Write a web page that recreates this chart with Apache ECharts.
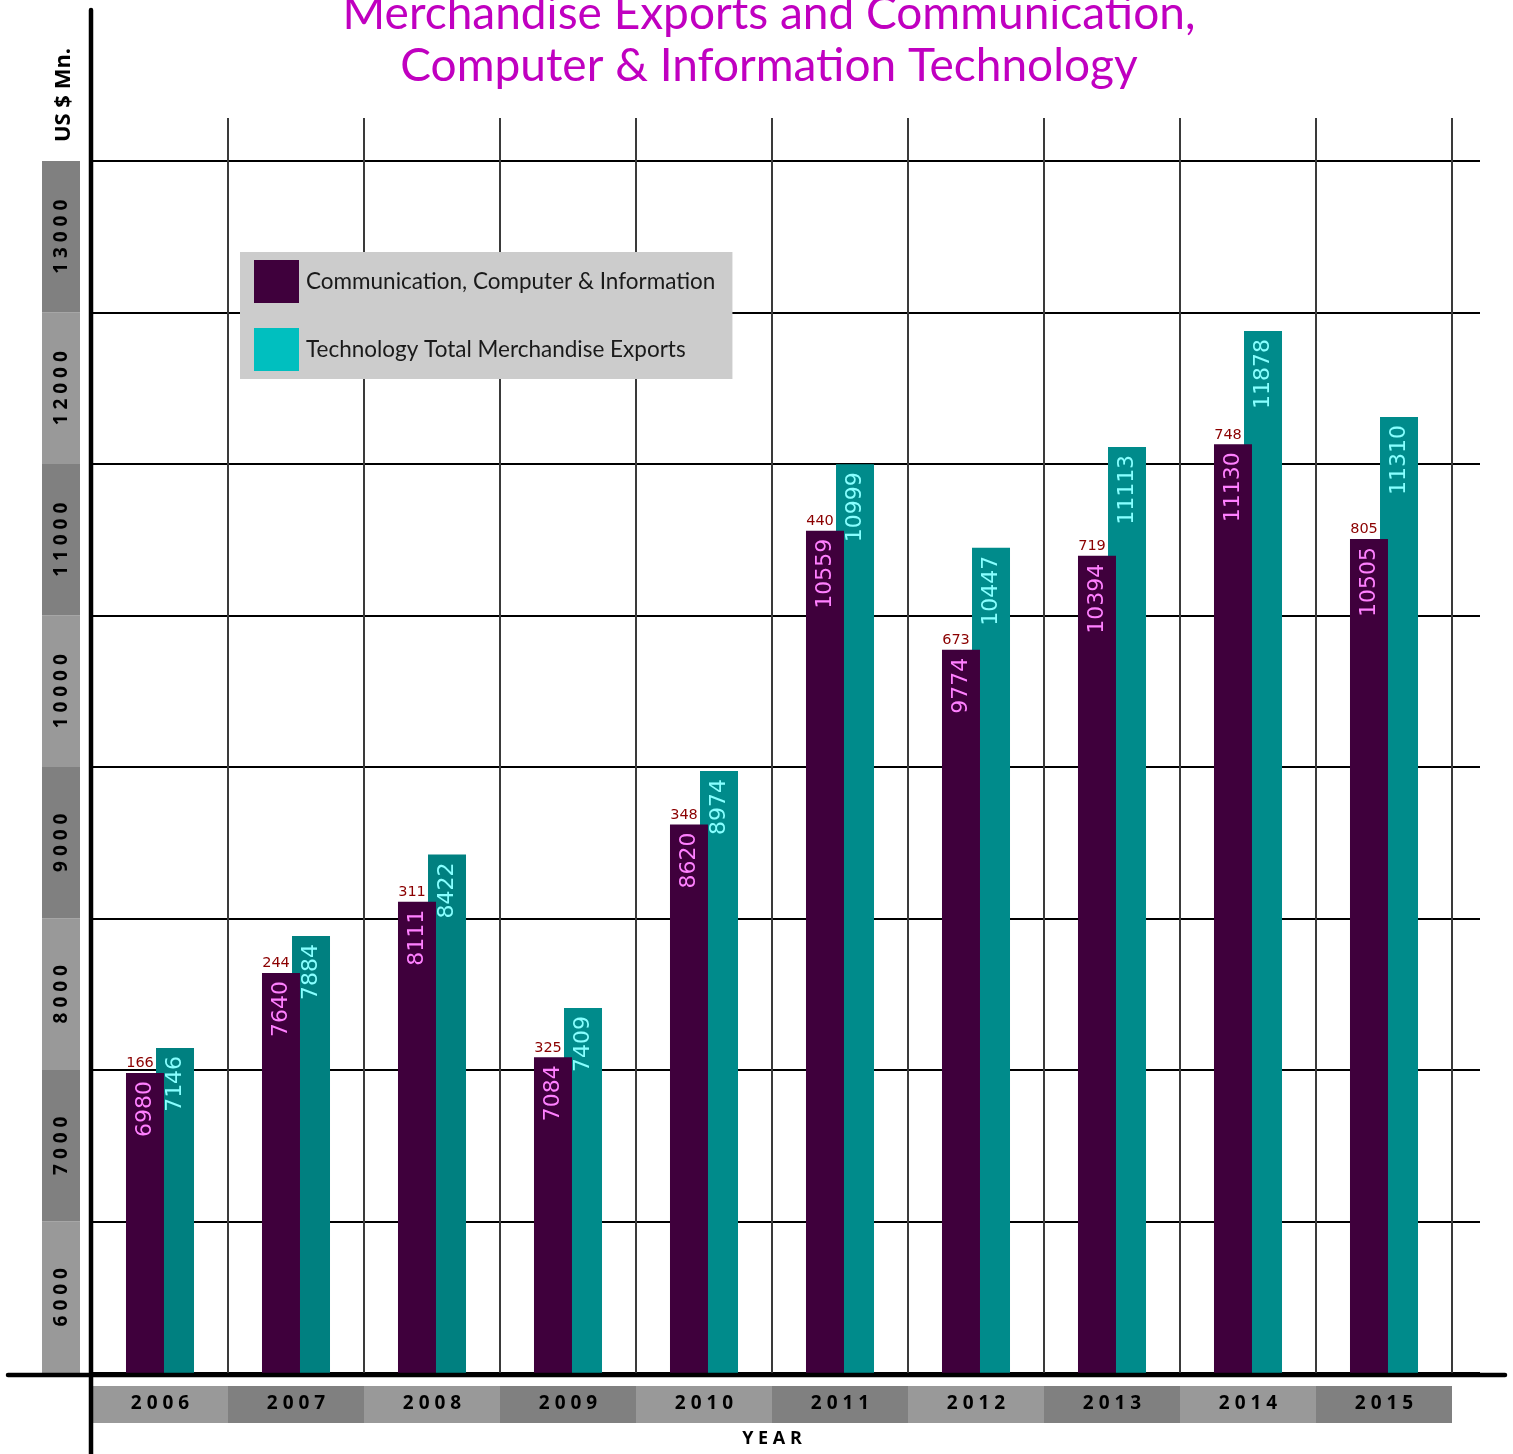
<!DOCTYPE html>
<html>
<head>
<meta charset="utf-8">
<script src="https://cdn.jsdelivr.net/npm/echarts@6/dist/echarts.min.js"></script>
<style>
html,body{margin:0;padding:0;background:#fff;}
#chart{width:1513px;height:1454px;}
</style>
</head>
<body>
<div id="chart"></div>
<script>
const years = ['2006','2007','2008','2009','2010','2011','2012','2013','2014','2015'];
const ccitValues = [6980,7640,8111,7084,8620,10559,9774,10394,11130,10505];
const merchValues = [7146,7884,8422,7409,8974,10999,10447,11113,11878,11310];
const diffLabels = [166,244,311,325,348,440,673,719,748,805];
const yBandLabels = ['6000','7000','8000','9000','10000','11000','12000','13000'];
const seriesNames = ['Communication, Computer & Information','Technology Total Merchandise Exports'];
const yMin = 5000, yMax = 13000, yStep = 1000;

const spaced = (s, sep) => s.split('').join(sep);
const chart = echarts.init(document.getElementById('chart'));
const tealFor = i => (i < 3 ? '#008080' : '#008b8b');

chart.setOption({
  animation: false,
  backgroundColor: '#ffffff',
  grid: [
    {left: 92, right: 61, top: 161, bottom: 81},
    {left: 90, right: 33, top: 161, bottom: 81},
    {left: 92, right: 61, top: 118, bottom: 81},
    {left: 42, width: 38, top: 161, bottom: 81},
    {left: 92, right: 61, top: 1386, height: 37}
  ],
  xAxis: [
    {gridIndex: 0, type: 'category', data: years, show: false},
    {gridIndex: 0, type: 'category', data: years, show: false},
    {gridIndex: 1, type: 'value', min: 0, max: 1, show: false},
    {gridIndex: 2, type: 'category', data: years, axisLine: {show: false}, axisTick: {show: false},
      axisLabel: {show: false}, splitLine: {show: true, interval: 0, lineStyle: {color: '#3a3a3a', width: 2}}},
    {gridIndex: 3, type: 'value', min: 0, max: 1, show: false},
    {gridIndex: 4, type: 'category', data: years, axisLine: {show: false}, axisTick: {show: false},
      axisLabel: {show: true, interval: 0, margin: -29, fontFamily: 'Open Sans', fontWeight: 'bold', fontSize: 19, color: '#000',
        formatter: v => spaced(v, ' ')},
      splitArea: {show: true, interval: 0, areaStyle: {color: ['#999999', '#808080']}},
      name: spaced('YEAR', ' '), nameLocation: 'middle', nameGap: 7,
      nameTextStyle: {fontFamily: 'Open Sans', fontWeight: 'bold', fontSize: 18, color: '#000', verticalAlign: 'top'}}
  ],
  yAxis: [
    {gridIndex: 0, type: 'value', min: yMin, max: yMax, interval: yStep, show: false},
    {gridIndex: 1, type: 'value', min: yMin, max: yMax, interval: yStep, axisLine: {show: false}, axisTick: {show: false},
      axisLabel: {show: false}, splitLine: {show: true, lineStyle: {color: '#000', width: 2}}},
    {gridIndex: 2, type: 'value', min: 0, max: 1, show: false},
    {gridIndex: 3, type: 'category', data: yBandLabels, axisLine: {show: false}, axisTick: {show: false},
      axisLabel: {show: true, interval: 0, inside: true, rotate: 90, margin: 10, fontFamily: 'Open Sans', fontWeight: 'bold', fontSize: 19, color: '#000',
        formatter: v => spaced(v, ' ')},
      splitArea: {show: true, interval: 0, areaStyle: {color: ['#999999', '#808080']}}},
    {gridIndex: 4, type: 'value', min: 0, max: 1, show: false}
  ],
  legend: {
    orient: 'vertical', left: 240, top: 252, padding: [8, 17, 8, 14],
    itemWidth: 45, itemHeight: 43, itemGap: 25, icon: 'rect',
    backgroundColor: '#cccccc', selectedMode: false,
    data: [{name: seriesNames[0], itemStyle: {color: '#3f003c'}}, {name: seriesNames[1], itemStyle: {color: '#00bfbf'}}],
    textStyle: {fontFamily: 'Lato', fontSize: 22.5, color: '#1a1a1a', padding: [0, 0, 0, 2]}
  },
  series: [
    {
      name: seriesNames[0], type: 'bar', xAxisIndex: 0, yAxisIndex: 0, data: ccitValues,
      barWidth: 38, barGap: '-21%', z: 3,
      itemStyle: {color: '#3f003c'},
      label: {show: true, position: 'insideTop', rotate: 90, align: 'right', verticalAlign: 'middle', distance: 8,
        color: '#ff80ff', fontSize: 22, fontFamily: 'DejaVu Sans'}
    },
    {
      name: seriesNames[1], type: 'bar', xAxisIndex: 0, yAxisIndex: 0,
      data: merchValues.map((v, i) => ({value: v, itemStyle: {color: tealFor(i)}})),
      barWidth: 38, barGap: '-21%', z: 2,
      itemStyle: {color: '#00bfbf'},
      label: {show: true, position: 'insideTop', rotate: 90, align: 'right', verticalAlign: 'middle', distance: 8,
        color: '#88ffff', fontSize: 22, fontFamily: 'DejaVu Sans'}
    },
    {
      name: 'diff', type: 'bar', xAxisIndex: 1, yAxisIndex: 0, data: ccitValues, silent: true,
      barWidth: 38, barGap: '-21%', z: 4,
      itemStyle: {color: 'rgba(0,0,0,0)'},
      label: {show: true, position: 'top', distance: 2, offset: [-5, 0], color: '#8b0000', fontSize: 14.5, fontFamily: 'DejaVu Sans',
        formatter: p => String(diffLabels[p.dataIndex])}
    },
    {
      name: 'diffTwin', type: 'bar', xAxisIndex: 1, yAxisIndex: 0, data: merchValues, silent: true,
      barWidth: 38, barGap: '-21%', z: 1,
      itemStyle: {color: 'rgba(0,0,0,0)'}
    }
  ],
  graphic: [
    {type: 'line', z: 100, shape: {x1: 91, y1: 10, x2: 91, y2: 1454}, style: {stroke: '#000', lineWidth: 4.5, lineCap: 'round'}},
    {type: 'line', z: 100, shape: {x1: 8, y1: 1375, x2: 1505, y2: 1375}, style: {stroke: '#000', lineWidth: 4.5, lineCap: 'round'}},
    {type: 'text', z: 100, x: 64, y: 95, rotation: Math.PI / 2,
      style: {text: 'US $ Mn.', font: 'bold 22px "Open Sans"', fill: '#000', align: 'center', verticalAlign: 'middle'}},
    {type: 'text', z: 100, x: 769, y: -12,
      style: {text: 'Merchandise Exports and Communication,\nComputer & Information Technology',
        font: '46px Lato', lineHeight: 52, fill: '#c000c0', align: 'center', verticalAlign: 'top'}}
  ]
});
</script>
</body>
</html>
